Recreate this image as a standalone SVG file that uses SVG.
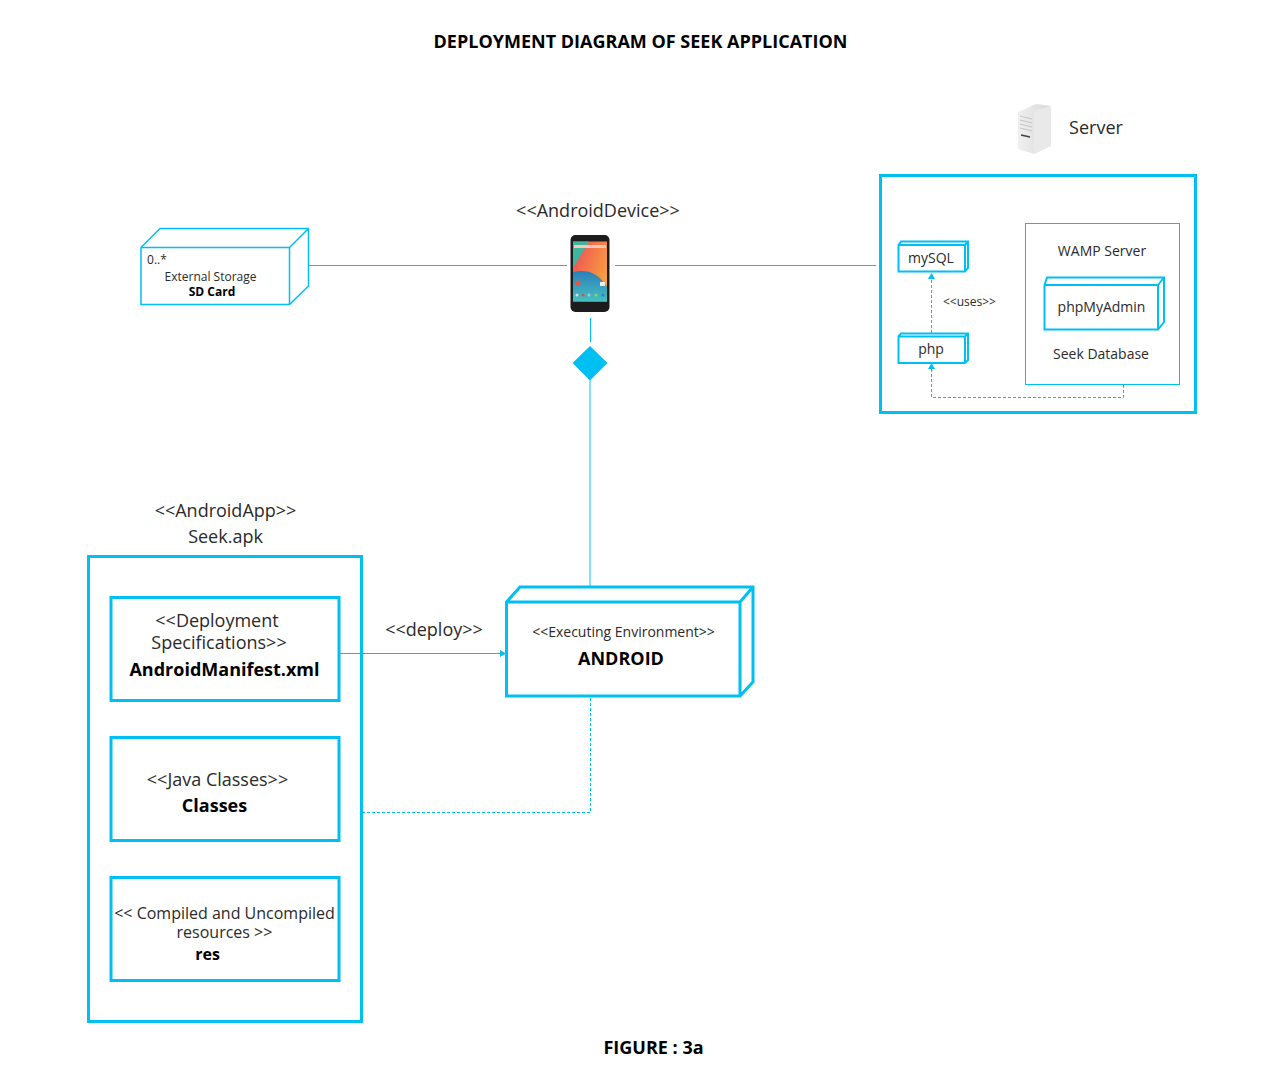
<svg xmlns="http://www.w3.org/2000/svg" width="1287" height="1080" viewBox="0 0 1287 1080">
<style>
text{font-family:"Open Sans","Noto Sans",sans-serif;fill:#2a2a2a;text-anchor:middle}
.b{font-weight:700;fill:#000}
.box{fill:#fff;stroke:#00c0f3}
.n{fill:none;stroke:#00c0f3}
.t3{stroke-width:3}.t2{stroke-width:2}.t1{stroke-width:1}
.conn{fill:none;stroke:#00c0f3;stroke-width:1}
.dash{stroke-dasharray:3 2}
.s18{font-size:18px}.s17{font-size:17px}.s16{font-size:16px}.s14{font-size:14px}.s13{font-size:13px}.s12{font-size:12px}.s11{font-size:11px}
</style>
<defs>
<marker id="arr" markerWidth="7" markerHeight="8" refX="6" refY="3.500" orient="auto" markerUnits="userSpaceOnUse"><path d="M0 0L6 3.500L0 7Z" fill="#00c0f3"/></marker>
<linearGradient id="scr" x1="0" y1="0" x2="1" y2="0.600"><stop offset="0.200" stop-color="#ef5b55"/><stop offset="1" stop-color="#f9a13a"/></linearGradient>
<linearGradient id="srv" x1="0" y1="0" x2="1" y2="0"><stop offset="0" stop-color="#f0f0f0"/><stop offset="1" stop-color="#d8d8d8"/></linearGradient>
<linearGradient id="low" x1="0" y1="0" x2="0" y2="1"><stop offset="0" stop-color="#2b7fb8"/><stop offset="1" stop-color="#45c0c0"/></linearGradient>
</defs>
<rect width="1287" height="1080" fill="#fff"/>
<text id="title" class="b s18" x="640.500" y="48">DEPLOYMENT DIAGRAM OF SEEK APPLICATION</text>
<text id="figure" class="b s18" x="653.500" y="1054">FIGURE : 3a</text>
<g id="connectors">
<path class="conn" d="M309 265.500H567M615 265.500H876"/>
<path class="conn" d="M590.500 318V342"/>
<path d="M590 372V586" fill="none" stroke="#5fd6f7" stroke-width="1.500"/>
<path class="conn" d="M340 653.500H506" marker-end="url(#arr)"/>
<path class="conn dash" d="M590.500 698V812.500H363"/>
<path class="conn dash" d="M931.500 333V273" marker-end="url(#arr)"/>
<path class="conn dash" d="M1123.500 385V397.500H931.500V363" marker-end="url(#arr)"/>
</g>
<text id="deploy" class="s18" x="434" y="636">&lt;&lt;deploy&gt;&gt;</text>
<path id="diamond" d="M590 346L607.500 363L590 380.500L572.500 363Z" fill="#00c0f3"/>
<g id="sdcard">
<path class="box" style="stroke-width:1.500" d="M141 247.500L160 228.500H308.500V286L289.500 304.500H141ZM141 247.500H289.500V304.500M289.500 247.500L308.500 228.500"/>
<text class="s12" x="157" y="263.500">0..*</text>
<text class="s12" x="210.500" y="281">External Storage</text>
<text class="s12 b" x="212" y="296">SD Card</text>
</g>
<g id="device">
<text class="s18" x="598" y="217">&lt;&lt;AndroidDevice&gt;&gt;</text>
<rect x="570.500" y="235" width="39" height="77" rx="5" fill="#1c1c1c"/>
<rect x="573" y="241.500" width="34" height="60" fill="url(#scr)"/>
<path d="M573 241.500H589L573 268Z" fill="#3fb59f"/>
<path d="M573 272C586 269 598 272 607 287V301.500H573Z" fill="url(#low)"/>
<rect x="574" y="245" width="32" height="3" fill="#f7c7b5"/>
<circle cx="578" cy="283" r="2.500" fill="#e8563f"/>
<rect x="600" y="282" width="5" height="4" fill="#eee"/>
<circle cx="577" cy="295" r="1.500" fill="#d8d8e8"/><circle cx="583" cy="295" r="1.500" fill="#e0503a"/><circle cx="589" cy="295" r="1.500" fill="#8fd0d8"/><circle cx="596" cy="295" r="1.500" fill="#9ccc50"/><circle cx="603" cy="295" r="1.500" fill="#2a80d0"/>
</g>
<g id="server">
<path d="M1018 112L1036 104L1050.500 106V146L1034 154L1018 149Z" fill="url(#srv)"/>
<path d="M1034 111L1050.500 106V146L1034 154Z" fill="#e9e9e9"/>
<path d="M1020 116L1032 119M1020 120L1032 123M1020 124L1032 127M1020 128L1032 131" stroke="#c4c4c4" stroke-width="1"/>
<path d="M1021 135L1030 137" stroke="#444" stroke-width="1.500"/>
<text class="s18" x="1096" y="134">Server</text>
<rect class="n t3" x="880.500" y="175.500" width="315" height="237"/>
<g id="mysql">
<path class="box t2" d="M898.500 245L901 241.500H968V268L965 271.500H898.500ZM898.500 245H965V271.500M965 245L968 241.500"/>
<text class="s14" x="931" y="263">mySQL</text>
</g>
<text class="s12" x="969.500" y="305.500">&lt;&lt;uses&gt;&gt;</text>
<g id="php">
<path class="box t2" d="M898.500 336.500L901 333.500H968V360L965 363H898.500ZM898.500 336.500H965V363M965 336.500L968 333.500"/>
<text class="s14" x="931" y="354">php</text>
</g>
<rect class="n t1" x="1025.500" y="223.500" width="154" height="161"/>
<text class="s14" x="1102" y="256">WAMP Server</text>
<g id="phpmyadmin">
<path class="box t2" d="M1044.500 285L1047 277.500H1164V322L1158 329.500H1044.500ZM1044.500 285H1158V329.500M1158 285L1164 277.500"/>
<text class="s14" x="1101.500" y="312">phpMyAdmin</text>
</g>
<text class="s14" x="1101" y="359">Seek Database</text>
</g>
<g id="android">
<path class="box t3" d="M506.500 602L520 587H753V682L740 696H506.500ZM506.500 602H740V696M740 602L753 587"/>
<text class="s14" x="623.500" y="637">&lt;&lt;Executing Environment&gt;&gt;</text>
<text class="s18 b" x="621" y="665">ANDROID</text>
</g>
<g id="apk">
<text class="s18" x="225.500" y="517">&lt;&lt;AndroidApp&gt;&gt;</text>
<text class="s18" x="225.500" y="543">Seek.apk</text>
<rect class="n t3" x="88.500" y="556.500" width="273" height="465"/>
</g>
<g id="manifest">
<rect class="n t3" x="111" y="597.500" width="228" height="103"/>
<text class="s18" x="217" y="627">&lt;&lt;Deployment</text>
<text class="s18" x="219" y="649">Specifications&gt;&gt;</text>
<text class="s18 b" x="224.500" y="676">AndroidManifest.xml</text>
</g>
<g id="classes">
<rect class="n t3" x="111" y="737.500" width="228" height="103"/>
<text class="s18" x="217.500" y="786">&lt;&lt;Java Classes&gt;&gt;</text>
<text class="s18 b" x="214.500" y="812">Classes</text>
</g>
<g id="res">
<rect class="n t3" x="111" y="877.500" width="228" height="103"/>
<text class="s16" x="224.500" y="919">&lt;&lt; Compiled and Uncompiled</text>
<text class="s16" x="224.500" y="938">resources &gt;&gt;</text>
<text class="s16 b" x="207.500" y="960">res</text>
</g>
</svg>
